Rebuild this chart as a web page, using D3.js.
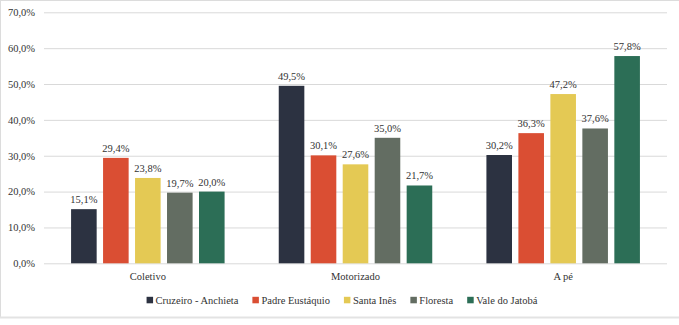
<!DOCTYPE html>
<html>
<head>
<meta charset="utf-8">
<script src="https://cdn.jsdelivr.net/npm/d3@7"></script>
<style>
  body { margin: 0; background: #fff; }
  svg text { font-family: "Liberation Serif", "Times New Roman", serif !important; }
</style>
</head>
<body>
<script>
// data
var categories = ["Coletivo", "Motorizado", "A pé"];
var regions = ["Cruzeiro - Anchieta", "Padre Eustáquio", "Santa Inês", "Floresta", "Vale do Jatobá"];
var colors = ["#2c3241", "#da4e33", "#e4c954", "#636d62", "#2c6e56"];
var cruzeiro = [15.1, 49.5, 30.2];
var padre = [29.4, 30.1, 36.3];
var santaInes = [23.8, 27.6, 47.2];
var floresta = [19.7, 35.0, 37.6];
var jatoba = [20.0, 21.7, 57.8];
var yTicks = [0, 10, 20, 30, 40, 50, 60, 70];

var seriesValues = [cruzeiro, padre, santaInes, floresta, jatoba];

var FONT = "Liberation Serif";
var FS = 10.5;

function init() {
    var w = 679;
    var h = 325;
    var left = 44, right = 667, top = 12.3, bottom = 263.3;

    var svg = d3.select("body").append("svg")
        .attr("width", w)
        .attr("height", h)
        .attr("font-family", FONT);

    // chart border
    svg.append("rect")
        .attr("x", 0.5).attr("y", 0.5)
        .attr("width", w + 5).attr("height", 317)
        .attr("fill", "none")
        .attr("stroke", "#dcdcdc")
        .attr("stroke-width", 1);
    svg.append("line")
        .attr("x1", 0).attr("x2", w)
        .attr("y1", 317.5).attr("y2", 317.5)
        .attr("stroke", "#e3e3e3")
        .attr("stroke-width", 2);

    var x0 = d3.scaleBand()
        .domain(categories)
        .range([left, right])
        .paddingInner(0.23)
        .paddingOuter(0.115);

    var x1 = d3.scaleBand()
        .domain(regions)
        .range([0, x0.bandwidth()])
        .paddingInner(0.2)
        .paddingOuter(0.1);

    var yScale = d3.scaleLinear()
        .domain([0, 70])
        .range([bottom, top]);

    var fmt = function(v) { return d3.format(".1f")(v).replace(".", ",") + "%"; };

    // gridlines + y labels
    var yAxis = svg.append("g")
        .attr("transform", "translate(" + left + ",0)")
        .call(d3.axisLeft(yScale)
            .tickValues(yTicks)
            .tickSize(-(right - left))
            .tickPadding(9)
            .tickFormat(fmt));
    yAxis.attr("font-family", FONT).attr("font-size", FS);
    yAxis.select(".domain").remove();
    yAxis.selectAll(".tick line").attr("stroke", "#d9d9d9");
    yAxis.selectAll("text")
        .attr("fill", "#333")
        .attr("font-family", FONT)
        .attr("font-size", FS);

    // bars
    var rows = [];
    seriesValues.forEach(function(vals, si) {
        vals.forEach(function(v, ci) {
            rows.push({ region: regions[si], cat: categories[ci], value: v, color: colors[si] });
        });
    });

    svg.append("g").selectAll("rect")
        .data(rows)
        .enter().append("rect")
        .attr("x", function(d) { return x0(d.cat) + x1(d.region); })
        .attr("y", function(d) { return yScale(d.value); })
        .attr("width", x1.bandwidth())
        .attr("height", function(d) { return yScale(0) - yScale(d.value); })
        .attr("fill", function(d) { return d.color; });

    // value labels
    svg.append("g").selectAll("text")
        .data(rows)
        .enter().append("text")
        .attr("x", function(d) { return x0(d.cat) + x1(d.region) + x1.bandwidth() / 2; })
        .attr("y", function(d) { return yScale(d.value) - 6; })
        .attr("text-anchor", "middle")
        .attr("fill", "#333")
        .attr("font-size", FS)
        .text(function(d) { return fmt(d.value); });

    // category labels
    svg.append("g").selectAll("text")
        .data(categories)
        .enter().append("text")
        .attr("x", function(d) { return x0(d) + x0.bandwidth() / 2; })
        .attr("y", 280)
        .attr("text-anchor", "middle")
        .attr("fill", "#333")
        .attr("font-size", FS)
        .text(function(d) { return d; });

    // legend
    var legend = svg.append("g");
    var items = legend.selectAll("g")
        .data(regions)
        .enter().append("g");
    items.append("rect")
        .attr("width", 6.5).attr("height", 6.5)
        .attr("y", 296.8)
        .attr("fill", function(d, i) { return colors[i]; });
    items.append("text")
        .attr("x", 9)
        .attr("y", 303.5)
        .attr("fill", "#333")
        .attr("font-size", FS)
        .text(function(d) { return d; });

    var pos = 0;
    var gap = 14;
    items.each(function() {
        var g = d3.select(this);
        var tw = g.select("text").node().getComputedTextLength();
        g.attr("transform", "translate(" + pos + ",0)");
        pos += 9 + tw + gap;
    });
    var total = pos - gap;
    legend.attr("transform", "translate(" + (342 - total / 2) + ",0)");
}

init();
</script>
</body>
</html>
